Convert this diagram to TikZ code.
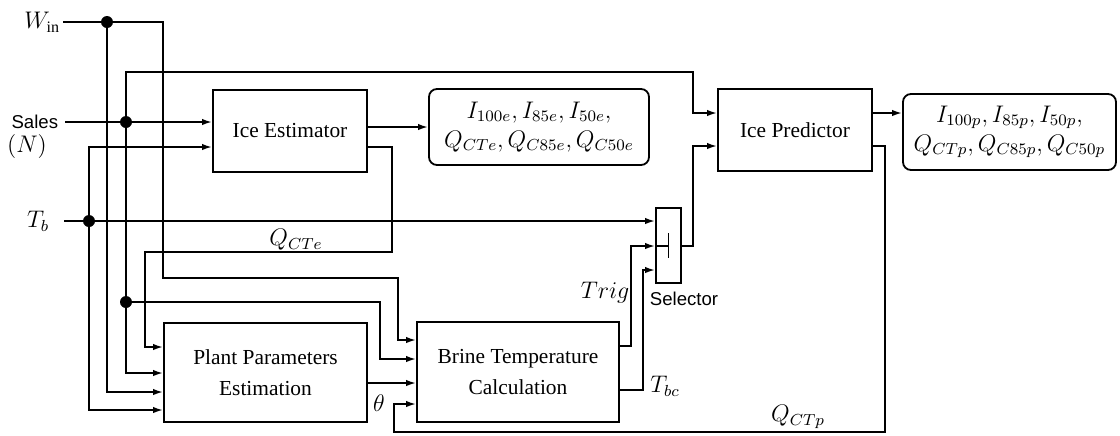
\documentclass[tikz,border=0pt]{standalone}
\usepackage{fontspec}
\setmainfont{Liberation Serif}
\setsansfont{Liberation Sans}
\usetikzlibrary{arrows.meta}
\begin{document}
\begin{tikzpicture}[x=0.5pt,y=-0.5pt,
  line width=0.9pt,
  arr/.style={-{Latex[length=5pt,width=3.2pt]}},
  blk/.style={draw, inner sep=0pt, align=center, font=\fontsize{10.7}{15.5}\selectfont},
  outbox/.style={draw, rounded corners=4pt, align=center, inner sep=0pt, font=\fontsize{12}{14.5}\selectfont},
  dot/.style={circle, fill, inner sep=0pt, minimum size=6pt},
  lbl/.style={inner sep=0pt, font=\fontsize{12}{14}\selectfont},
  sflbl/.style={inner sep=0pt, font=\sffamily\fontsize{9.3}{11.5}\selectfont},
]
\useasboundingbox (0,0) rectangle (1120,435);

% blocks
\node[blk, minimum width=77pt, minimum height=41pt] (est) at (290,131) {Ice Estimator};
\node[outbox, minimum width=110pt, minimum height=38pt] (oute) at (539,127) {$I_{100e}, I_{85e}, I_{50e},$\\$Q_{CTe}, Q_{C85e}, Q_{C50e}$};
\node[blk, minimum width=77pt, minimum height=41pt] (pred) at (795,130) {Ice Predictor};
\node[outbox, minimum width=106.5pt, minimum height=38pt] (outp) at (1009.5,132) {$I_{100p}, I_{85p}, I_{50p},$\\$Q_{CTp}, Q_{C85p}, Q_{C50p}$};
\node[blk, minimum width=101.5pt, minimum height=49.5pt] (plant) at (265.5,372.5) {Plant Parameters\\Estimation};
\node[blk, minimum width=101pt, minimum height=50pt] (brine) at (518,372) {Brine Temperature\\Calculation};
\node[draw, inner sep=0pt, minimum width=12.5pt, minimum height=37.5pt] (sel) at (668.5,245.5) {};

% junction dots
\node[dot] (dW) at (107,22) {};
\node[dot] (dS) at (126,122) {};
\node[dot] (dT) at (89,221) {};
\node[dot] (dS2) at (126,302) {};

% input labels
\node[lbl, anchor=east, inner xsep=1pt] (win) at (63,22) {$W_{\mathrm{in}}$};
\node[sflbl, anchor=east, inner xsep=3pt] (sales) at (65,122) {Sales};
\node[lbl] (nlbl) at (27,146) {$(N)$};
\node[lbl, anchor=east, inner xsep=7pt] (tb) at (64,221) {$T_b$};

% routing coordinates
\coordinate (cW1) at (163,278);
\coordinate (cW2) at (398,340);
\coordinate (yP2) at (0,373);
\coordinate (yP3) at (0,392);
\coordinate (yP4) at (0,410);
\coordinate (cS1) at (693,72);
\coordinate (yPr1) at (0,113);
\coordinate (cS3) at (380,359);
\coordinate (yE2) at (0,147);
\coordinate (yE3) at (0,127);
\coordinate (cQ1) at (392,252);
\coordinate (cQ2) at (145,347);
\coordinate (yB3) at (0,383);
\coordinate (yT) at (0,346);
\coordinate (cT1) at (631,246);
\coordinate (yTbc) at (0,390);
\coordinate (cTbc) at (643,270);
\coordinate (cO) at (693,146);
\coordinate (cF1) at (885,432);
\coordinate (cF2) at (394,404);

% connectors
\draw[arr] (win.east) -- (dW.center) -| (cW1) -| (cW2) -- (brine.west |- cW2);
\draw[arr] (dW.center) |- (plant.west |- yP3);
\draw[arr] (sales.east) -- (est.west |- dS);
\draw[arr] (dS.center) |- (cS1) |- (pred.west |- yPr1);
\draw[arr] (dS.center) |- (plant.west |- yP2);
\draw[arr] (dS2.center) -| (cS3) -- (brine.west |- cS3);
\draw[arr] (tb.east) -- (sel.west |- dT);
\draw[arr] (dT.center) |- (est.west |- yE2);
\draw[arr] (dT.center) |- (plant.west |- yP4);
\draw[arr] (est.east |- yE3) -- (oute.west |- yE3);
\draw[arr] (est.east |- yE2) -| (cQ1) -| (cQ2) -- (plant.west |- cQ2);
\draw[arr] (plant.east |- yB3) -- (brine.west |- yB3);
\draw[arr] (brine.east |- yT) -| (cT1) -- (sel.west |- cT1);
\draw[arr] (brine.east |- yTbc) -| (cTbc) -- (sel.west |- cTbc);
\draw[arr] (sel.east |- cT1) -| (cO) -- (pred.west |- cO);
\draw[arr] (pred.east |- yPr1) -- (outp.west |- yPr1);
\draw[arr] (pred.east |- cO) -| (cF1) -| (cF2) -- (brine.west |- cF2);

% selector interior
\draw (sel.west |- cT1) -- (sel.center |- cT1);
\draw ([yshift=6.25pt]sel.center) -- ([yshift=-6.25pt]sel.center);

% signal labels
\node[lbl] (qcte) at (296,240) {$Q_{CTe}$};
\node[lbl] (theta) at (379,403) {$\theta$};
\node[lbl] (trig) at (605,293) {$Trig$};
\node[sflbl] (sellbl) at (684,299) {Selector};
\node[lbl] (tbc) at (665,386) {$T_{bc}$};
\node[lbl] (qctp) at (798,417) {$Q_{CTp}$};
\end{tikzpicture}
\end{document}
